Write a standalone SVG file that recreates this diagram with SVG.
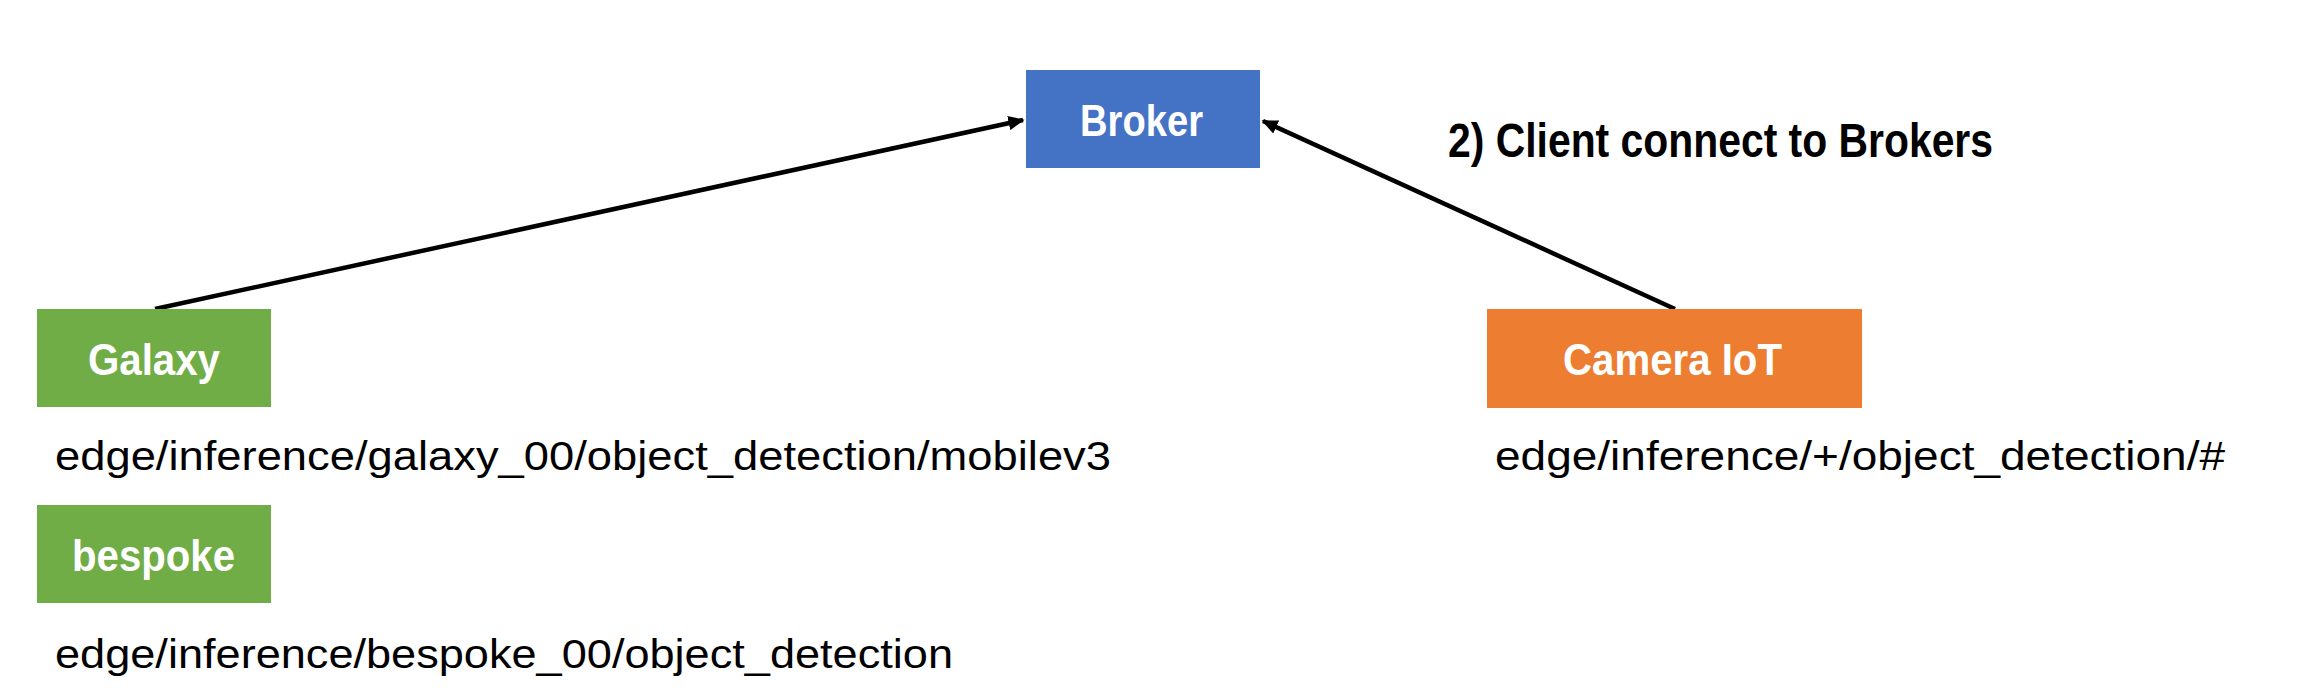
<svg xmlns="http://www.w3.org/2000/svg" width="2316" height="695" viewBox="0 0 2316 695">
<style>
.lbl{font-family:"Liberation Sans",Arial,sans-serif;font-weight:bold;fill:#ffffff;font-size:45px}
.ttl{font-family:"Liberation Sans",Arial,sans-serif;font-weight:bold;fill:#000000;font-size:48px}
.path{font-family:"Liberation Sans",Arial,sans-serif;fill:#000000;font-size:41px}
.conn{stroke:#000000;stroke-width:4.5;fill:none}
</style>
<defs>
<marker id="arr" viewBox="0 0 10 10" refX="9" refY="5" markerWidth="3.6" markerHeight="3.2" orient="auto" markerUnits="strokeWidth" preserveAspectRatio="none">
<path d="M0,0 L10,5 L0,10 Z" fill="#000000"/>
</marker>
</defs>
<rect width="2316" height="695" fill="#ffffff"/>
<g id="connectors">
<line class="conn" x1="155" y1="309" x2="1023" y2="120" marker-end="url(#arr)"/>
<line class="conn" x1="1675" y1="309" x2="1263" y2="121" marker-end="url(#arr)"/>
</g>
<g id="broker">
<rect x="1026" y="70" width="234" height="98" fill="#4472C4"/>
<text class="lbl" x="1080" y="136" textLength="123" lengthAdjust="spacingAndGlyphs">Broker</text>
</g>
<g id="title">
<text class="ttl" x="1448" y="157" textLength="545" lengthAdjust="spacingAndGlyphs">2) Client connect to Brokers</text>
</g>
<g id="galaxy">
<rect x="37" y="309" width="234" height="98" fill="#70AD47"/>
<text class="lbl" x="88" y="375" textLength="132" lengthAdjust="spacingAndGlyphs">Galaxy</text>
</g>
<g id="galaxy-topic">
<text class="path" x="55" y="470" textLength="1056" lengthAdjust="spacingAndGlyphs">edge/inference/galaxy_00/object_detection/mobilev3</text>
</g>
<g id="bespoke">
<rect x="37" y="505" width="234" height="98" fill="#70AD47"/>
<text class="lbl" x="72" y="571" textLength="163" lengthAdjust="spacingAndGlyphs">bespoke</text>
</g>
<g id="bespoke-topic">
<text class="path" x="55" y="668" textLength="898" lengthAdjust="spacingAndGlyphs">edge/inference/bespoke_00/object_detection</text>
</g>
<g id="camera">
<rect x="1487" y="309" width="375" height="99" fill="#ED7D31"/>
<text class="lbl" x="1563" y="375" textLength="219" lengthAdjust="spacingAndGlyphs">Camera IoT</text>
</g>
<g id="camera-topic">
<text class="path" x="1495" y="470" textLength="730" lengthAdjust="spacingAndGlyphs">edge/inference/+/object_detection/#</text>
</g>
</svg>
